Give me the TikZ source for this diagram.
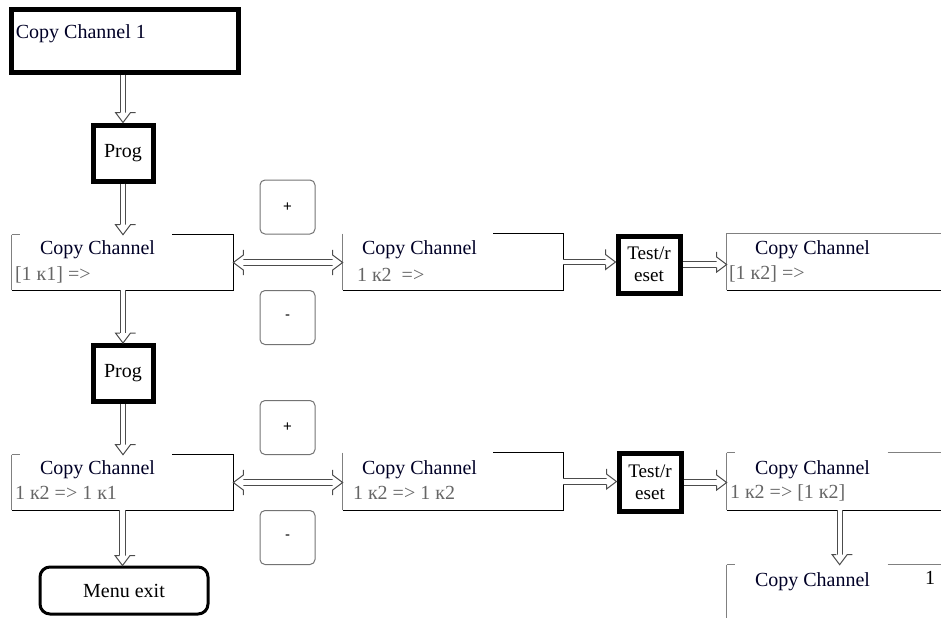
\documentclass[tikz,border=0pt]{standalone}
\usepackage{fontspec}
\setmainfont{Liberation Serif}
\setsansfont{Liberation Sans}
\usetikzlibrary{arrows.meta,calc,decorations.markings}
\begin{document}
\begin{tikzpicture}[x=0.6pt,y=-0.6pt,
  font=\rmfamily\fontsize{12pt}{14pt}\selectfont,
  thickbox/.style={draw=black,line width=3pt,inner sep=0pt,fill=white},
  keybox/.style={draw=black!55,line width=0.6pt,rounded corners=3pt,inner sep=0pt,
    minimum width=55*0.6pt,minimum height=54*0.6pt,font=\sffamily\fontsize{9pt}{10pt}\selectfont},
  cbox/.style={inner sep=0pt},
  edge/.style={draw=black,line width=0.9pt},
  gedge/.style={draw=black!50,line width=0.7pt},
  tone/.style={anchor=west,inner sep=0pt,text=black!85!blue},
  ttwo/.style={anchor=west,inner sep=0pt,text=black!60},
  headend/.style={decoration={markings,mark=at position 1 with {
      \draw[draw=black!70,line width=0.6pt,fill=white,line join=miter]
        (-10,3.2) -- (-10,7.5) -- (0,0) -- (-10,-7.5) -- (-10,-3.2);}}},
  headstart/.style={decoration={markings,mark=at position 0 with {
      \draw[draw=black!70,line width=0.6pt,fill=white,line join=miter]
        (10,3.2) -- (10,7.5) -- (0,0) -- (10,-7.5) -- (10,-3.2);}}},
  harrow/.style={draw=black!70,line width=0.6pt,double=white,double distance=2.6pt,
    shorten >=5.7pt,postaction={headend,decorate}},
  harrowb/.style={draw=black!70,line width=0.6pt,double=white,double distance=2.6pt,
    shorten >=5.7pt,shorten <=5.7pt,postaction={headend,decorate},postaction={headstart,decorate}}]
\useasboundingbox (0,0) rectangle (941,618);
\clip (0,0) rectangle (941,618);

% top
\node[thickbox,minimum width=227*0.6pt,minimum height=63*0.6pt] (ch1) at (124.5,40.5) {};
\node[tone] (ch1t) at ($(ch1.north west)+(7,27)$) {Copy Channel 1};
\node[thickbox,minimum width=60*0.6pt,minimum height=56*0.6pt] (prog1) at (123,153) {Prog};

% row 1
\node[cbox,minimum width=221*0.6pt,minimum height=55*0.6pt] (A) at (122.5,262.5) {};
\node[cbox,minimum width=220*0.6pt,minimum height=56*0.6pt] (B) at (453,262) {};
\node[thickbox,minimum width=62*0.6pt,minimum height=57*0.6pt,align=center,
  font=\rmfamily\fontsize{11.5pt}{13pt}\selectfont] (T1) at (649,264.5) {Test/r\\eset};
\node[cbox,minimum width=218*0.6pt,minimum height=56*0.6pt] (C) at (836,262) {};
\node[keybox] (p1) at (287.5,207) {+};
\node[keybox] (m1) at (287.5,317.5) {-};

\node[thickbox,minimum width=60*0.6pt,minimum height=56*0.6pt] (prog2) at (123,373.5) {Prog};

% row 2
\node[cbox,minimum width=221*0.6pt,minimum height=55*0.6pt] (D) at (122.5,482.5) {};
\node[cbox,minimum width=220*0.6pt,minimum height=57*0.6pt] (E) at (453,481.5) {};
\node[thickbox,minimum width=62*0.6pt,minimum height=58*0.6pt,align=center,
  font=\rmfamily\fontsize{11.5pt}{13pt}\selectfont] (T2) at (650,482.5) {Test/r\\eset};
\node[cbox,minimum width=218*0.6pt,minimum height=57*0.6pt] (F) at (836,481.5) {};
\node[cbox,minimum width=218*0.6pt,minimum height=60*0.6pt] (G) at (836,595) {};
\node[keybox] (p2) at (287.5,427.5) {+};
\node[keybox] (m2) at (287.5,537.5) {-};
\node[draw=black,line width=1.8pt,rounded corners=6pt,minimum width=168*0.6pt,
  minimum height=47*0.6pt,inner sep=0pt] (menu) at (124,590.5) {Menu exit};

% box borders
\draw[gedge] (A.north west) -- (A.south west);
\draw[gedge] (A.north west) -- ++(8,0);
\draw[edge] (A.south west) -- (A.south east) -- (A.north east) -- ++(-61,0);
\draw[gedge] (B.north west) -- (B.south west);
\draw[edge] (B.south west) -- (B.south east) -- (B.north east) -- ++(-70,0);
\draw[gedge] (C.south west) -- (C.north west) -- (C.north east);
\draw[edge] (C.south west) -- (C.south east);
\draw[gedge] (D.north west) -- (D.south west);
\draw[gedge] (D.north west) -- ++(8,0);
\draw[edge] (D.south west) -- (D.south east) -- (D.north east) -- ++(-61,0);
\draw[gedge] (E.north west) -- (E.south west);
\draw[edge] (E.south west) -- (E.south east) -- (E.north east) -- ++(-70,0);
\draw[gedge] (F.north west) -- (F.south west);
\draw[gedge] (F.north west) -- ++(8,0);
\draw[edge] (F.south west) -- (F.south east);
\draw[gedge] ($(F.north west)+(161,0)$) -- (F.north east);
\draw[gedge] (G.north west) -- (G.south west);
\draw[gedge] (G.north west) -- ++(8,0);
\draw[gedge] ($(G.north west)+(161,0)$) -- (G.north east);

% texts
\node[tone] (At) at ($(A.north west)+(28,15)$) {Copy Channel};
\node[ttwo] (As) at ($(A.north west)+(3,40)$) {[1 к1] =>};
\node[tone] (Bt) at ($(B.north west)+(19,16)$) {Copy Channel};
\node[ttwo] (Bs) at ($(B.north west)+(14,41)$) {1 к2 \ =>};
\node[tone] (Ct) at ($(C.north west)+(28,16)$) {Copy Channel};
\node[ttwo] (Cs) at ($(C.north west)+(2,40)$) {[1 к2] =>};
\node[tone] (Dt) at ($(D.north west)+(28,15)$) {Copy Channel};
\node[ttwo] (Ds) at ($(D.north west)+(3,38)$) {1 к2 => 1 к1};
\node[tone] (Et) at ($(E.north west)+(19,17)$) {Copy Channel};
\node[ttwo] (Es) at ($(E.north west)+(10,40)$) {1 к2 => 1 к2};
\node[tone] (Ft) at ($(F.north west)+(28,17)$) {Copy Channel};
\node[ttwo] (Fs) at ($(F.north west)+(3,40)$) {1 к2 => [1 к2]};
\node[tone] (Gt) at ($(G.north west)+(28,17)$) {Copy Channel};
\node[anchor=west,inner sep=0pt] (Gn) at ($(G.north west)+(198,13)$) {1};

% connectors
\draw[harrow] (prog1.north |- ch1.south) -- (prog1.north);
\draw[harrow] (prog1.south) -- (prog1.south |- A.north);
\draw[harrow] (prog2.north |- A.south) -- (prog2.north);
\draw[harrow] (prog2.south) -- (prog2.south |- D.north);
\draw[harrow] (D.south) -- (D.south |- menu.north);
\draw[harrowb] (A.east) -- (B.west |- A.east);
\draw[harrow] (B.east) -- (T1.west |- B.east);
\draw[harrow] (T1.east) -- (C.west |- T1.east);
\draw[harrowb] (D.east) -- (E.west |- D.east);
\draw[harrow] (E.east) -- (T2.west |- E.east);
\draw[harrow] (T2.east) -- (F.west |- T2.east);
\draw[harrow] ($(F.south west)+(113,0)$) -- ($(G.north west)+(113,0)$);
\end{tikzpicture}
\end{document}
